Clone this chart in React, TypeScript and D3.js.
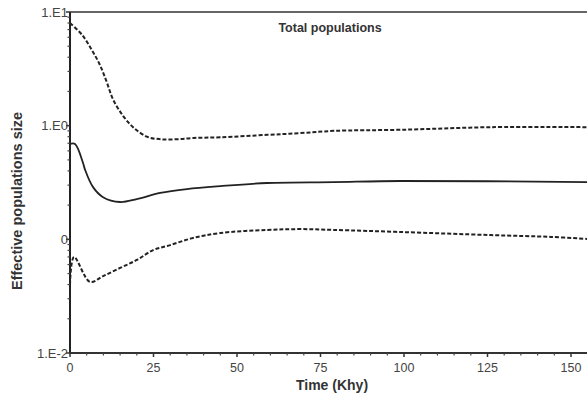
import React from 'react';
import * as d3 from 'd3';

// time in Khy and effective population size (log scale)
const upperTime = [0, 3.6, 6.6, 9, 11, 12.9, 15.9, 18.9, 23, 27, 32, 37, 45, 59, 69, 79, 99, 126, 155];
const upperValues = [8.0, 6.3, 4.6, 3.4, 2.42, 1.7, 1.22, 0.97, 0.8, 0.76, 0.76, 0.78, 0.79, 0.83, 0.86, 0.9, 0.92, 0.97, 0.97];

const medianTime = [0, 1.5, 3.9, 4.5, 6.9, 9.9, 15, 20, 27, 35, 45, 59, 79, 99, 155];
const medianValues = [0.69, 0.69, 0.47, 0.41, 0.288, 0.235, 0.213, 0.226, 0.256, 0.277, 0.294, 0.313, 0.319, 0.326, 0.319];

const lowerTime = [0, 1.2, 6, 9.9, 15, 20, 24.9, 30, 36.8, 45, 59, 69, 79, 99, 126, 144, 155];
const lowerValues = [0.04, 0.07, 0.0422, 0.0475, 0.056, 0.0658, 0.0805, 0.089, 0.1027, 0.1137, 0.121, 0.123, 0.121, 0.116, 0.109, 0.105, 0.1007];

const yTickValues = [0.01, 0.1, 1, 10];
const yTickLabels = ['1.E-2', '0', '1.E0', '1.E1'];
const xTickValues = [0, 25, 50, 75, 100, 125, 150];

export default function App() {
  const width = 587;
  const height = 398;
  const left = 70, top = 12, bottom = 353, right = 587;

  const x = d3.scaleLinear().domain([0, 150]).range([left, 571]);
  const y = d3.scaleLog().domain([0.01, 10]).range([bottom, top]);

  const line = d3.line<[number, number]>()
    .x(d => x(d[0]))
    .y(d => y(d[1]))
    .curve(d3.curveCatmullRom.alpha(0.5));

  const upper = line(upperTime.map((t, i) => [t, upperValues[i]]) as [number, number][]);
  const median = line(medianTime.map((t, i) => [t, medianValues[i]]) as [number, number][]);
  const lower = line(lowerTime.map((t, i) => [t, lowerValues[i]]) as [number, number][]);

  // minor ticks
  const yMinor: number[] = [];
  [0.01, 0.1, 1].forEach(d => {
    for (let k = 2; k <= 9; k++) yMinor.push(d * k);
  });
  const xMinor = d3.range(0, 156, 5).filter(v => v % 25 !== 0);

  const font = 'Arial, "Liberation Sans", sans-serif';

  return (
    <svg width={width} height={height} style={{ position: 'absolute', left: 0, top: 0, background: '#fff' }}>
      <defs>
        <clipPath id="plot">
          <rect x={left} y={top - 2} width={right - left} height={bottom - top + 4} />
        </clipPath>
      </defs>

      <g clipPath="url(#plot)" fill="none" stroke="#222">
        <path d={upper || ''} strokeWidth={2} strokeDasharray="4,2" />
        <path d={median || ''} strokeWidth={1.8} />
        <path d={lower || ''} strokeWidth={2} strokeDasharray="4,2" />
      </g>

      {/* frame */}
      <line x1={left} x2={right} y1={top} y2={top} stroke="#333" strokeWidth={1.5} />
      <line x1={left} x2={left} y1={top} y2={bottom} stroke="#222" strokeWidth={2} />
      <line x1={left} x2={right} y1={bottom} y2={bottom} stroke="#333" strokeWidth={2} />

      {/* y ticks */}
      {yTickValues.map((v, i) => (
        <g key={'y' + i}>
          <line x1={left - 4} x2={left} y1={y(v)} y2={y(v)} stroke="#333" strokeWidth={1.5} />
          <text x={left - 2} y={y(v) + 4.5} textAnchor="end" fontFamily={font} fontSize={13} fill="#444">
            {yTickLabels[i]}
          </text>
        </g>
      ))}
      {yMinor.map((v, i) => (
        <line key={'ym' + i} x1={left - 2.5} x2={left} y1={y(v)} y2={y(v)} stroke="#444" strokeWidth={1.2} />
      ))}

      {/* x ticks */}
      {xTickValues.map(v => (
        <g key={'x' + v}>
          <line x1={x(v)} x2={x(v)} y1={bottom} y2={bottom + 4} stroke="#333" strokeWidth={1.5} />
          <text x={x(v)} y={bottom + 18.5} textAnchor="middle" fontFamily={font} fontSize={12.5} fill="#444">
            {v}
          </text>
        </g>
      ))}
      {xMinor.map(v => (
        <line key={'xm' + v} x1={x(v)} x2={x(v)} y1={bottom} y2={bottom + 2.5} stroke="#444" strokeWidth={1.2} />
      ))}

      {/* titles */}
      <text x={330} y={32} textAnchor="middle" fontFamily={font} fontSize={12.5} fontWeight="bold" fill="#333">
        Total populations
      </text>
      <text x={332} y={390} textAnchor="middle" fontFamily={font} fontSize={14} fontWeight="bold" fill="#333">
        Time (Khy)
      </text>
      <text transform="translate(22,201) rotate(-90)" textAnchor="middle" fontFamily={font} fontSize={14.5} fontWeight="bold" fill="#333">
        Effective populations size
      </text>
    </svg>
  );
}
